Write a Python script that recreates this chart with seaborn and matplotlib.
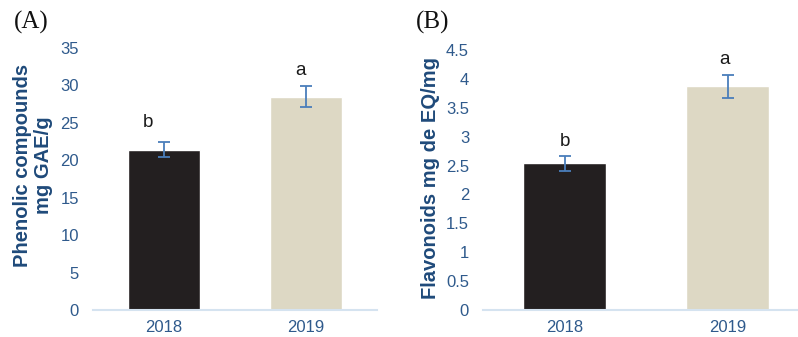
import matplotlib
matplotlib.use("Agg")
import matplotlib.pyplot as plt
import seaborn as sns
import pandas as pd

years = ["2018", "2019"]
phenolic = [21.4, 28.5]
phenolic_err = [1.0, 1.4]
flavonoids = [2.54, 3.87]
flavonoids_err = [0.13, 0.2]
letters_a = ["b", "a"]
letters_b = ["b", "a"]

bar_colors = ["#231F20", "#DDD8C4"]
tick_color = "#2F5A8C"
label_color = "#1F4A7A"
err_color = "#4A7EBB"

sns.set_theme(style="white")
plt.rcParams["font.family"] = ["Liberation Sans", "DejaVu Sans"]

fig = plt.figure(figsize=(7.98, 3.37), dpi=100)
ax_a = fig.add_axes([93 / 798, 1 - 310 / 337, 284 / 798, 262 / 337])
ax_b = fig.add_axes([483 / 798, 1 - 310 / 337, 326 / 798, 260 / 337])


def draw_panel(ax, values, errs, letters, ymax, ystep, letter_pos):
    df = pd.DataFrame({"year": years, "value": values})
    sns.barplot(data=df, x="year", y="value", hue="year", palette=bar_colors,
                width=0.51, legend=False, ax=ax, saturation=1)
    ax.errorbar(range(len(values)), values, yerr=errs, fmt="none",
                ecolor=err_color, elinewidth=1.3, capsize=4, capthick=1.3)
    for i, ((dx, y), t) in enumerate(zip(letter_pos, letters)):
        ax.text(i + dx, y, t, ha="center", va="center", fontsize=13.5, color="#1a1a1a")
    ax.set_ylim(0, ymax)
    ax.set_xlim(-0.5, 1.5)
    ticks = [i * ystep for i in range(int(round(ymax / ystep)) + 1)]
    ax.set_yticks(ticks)
    ax.set_yticklabels([f"{t:g}" for t in ticks])
    ax.set_xlabel("")
    ax.set_ylabel("")
    for s in ["left", "right", "top"]:
        ax.spines[s].set_visible(False)
    ax.spines["bottom"].set_color("#D5E3F0")
    ax.spines["bottom"].set_linewidth(1.5)
    ax.tick_params(axis="y", length=0, pad=10, labelsize=12, labelcolor=tick_color)
    ax.tick_params(axis="x", length=0, pad=7, labelsize=12, labelcolor=tick_color)
    ax.patch.set_alpha(0)


draw_panel(ax_a, phenolic, phenolic_err, letters_a, 35, 5,
           [(-0.11, 25.0), (-0.04, 32.0)])
draw_panel(ax_b, flavonoids, flavonoids_err, letters_b, 4.5, 0.5,
           [(0.0, 2.92), (-0.02, 4.33)])

fig.text(33 / 798, 1 - 165 / 337, "Phenolic compounds\nmg GAE/g", rotation=90,
         ha="center", va="center", fontsize=14.5, fontweight="bold",
         color=label_color, linespacing=1.15)
fig.text(430 / 798, 1 - 178 / 337, "Flavonoids mg de EQ/mg", rotation=90,
         ha="center", va="center", fontsize=14.5, fontweight="bold",
         color=label_color)

fig.text(14 / 798, 1 - 22 / 337, "(A)", ha="left", va="center", fontsize=18,
         family=["Liberation Serif", "DejaVu Serif"], color="#111111")
fig.text(416 / 798, 1 - 22 / 337, "(B)", ha="left", va="center", fontsize=18,
         family=["Liberation Serif", "DejaVu Serif"], color="#111111")

fig.savefig("out.png", dpi=100)
